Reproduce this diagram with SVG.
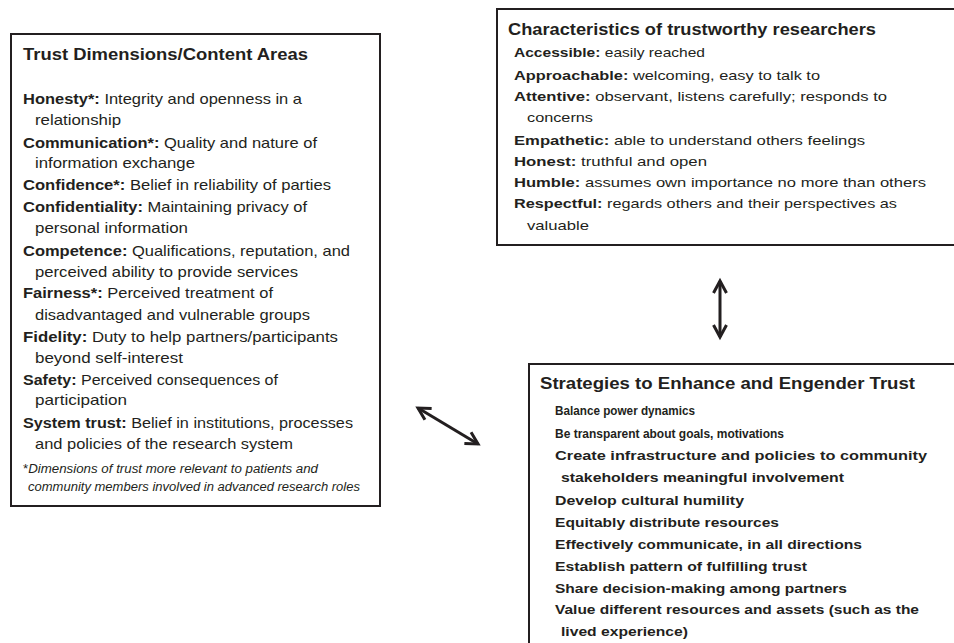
<svg xmlns="http://www.w3.org/2000/svg" width="954" height="643" viewBox="0 0 954 643">
<defs>
<style>
.box{fill:#ffffff;stroke:#231f20;stroke-width:2}
text{font-family:"Liberation Sans",Arial,sans-serif;fill:#231f20}
.ttl{font-size:17px;font-weight:bold}
.bd{font-size:14.5px}
.bd2{font-size:13.5px}
.sm{font-size:12.5px}
.b{font-weight:bold}
.note{font-size:12px;font-style:italic}
.arr{fill:none;stroke:#231f20;stroke-width:3}
</style>
<marker id="head" markerUnits="userSpaceOnUse" markerWidth="20" markerHeight="20" refX="0" refY="0" viewBox="-14 -10 16 20" orient="auto-start-reverse" overflow="visible">
<path d="M -12 -6.5 L 0 0 L -12 6.5" fill="none" stroke="#231f20" stroke-width="3"/>
</marker>
</defs>
<rect width="954" height="643" fill="#ffffff"/>

<g id="trust-dimensions">
<rect class="box" x="11" y="34" width="369" height="472"/>
<text class="ttl" x="23" y="60" textLength="285" lengthAdjust="spacingAndGlyphs">Trust Dimensions/Content Areas</text>
<text class="bd" x="23" y="104" textLength="279" lengthAdjust="spacingAndGlyphs"><tspan class="b">Honesty*:</tspan> Integrity and openness in a</text>
<text class="bd" x="35" y="125" textLength="86" lengthAdjust="spacingAndGlyphs">relationship</text>
<text class="bd" x="23" y="148" textLength="294" lengthAdjust="spacingAndGlyphs"><tspan class="b">Communication*:</tspan> Quality and nature of</text>
<text class="bd" x="35" y="168" textLength="160" lengthAdjust="spacingAndGlyphs">information exchange</text>
<text class="bd" x="23" y="190" textLength="308" lengthAdjust="spacingAndGlyphs"><tspan class="b">Confidence*:</tspan> Belief in reliability of parties</text>
<text class="bd" x="23" y="212" textLength="284" lengthAdjust="spacingAndGlyphs"><tspan class="b">Confidentiality:</tspan> Maintaining privacy of</text>
<text class="bd" x="35" y="233" textLength="153" lengthAdjust="spacingAndGlyphs">personal information</text>
<text class="bd" x="23" y="256" textLength="327" lengthAdjust="spacingAndGlyphs"><tspan class="b">Competence:</tspan> Qualifications, reputation, and</text>
<text class="bd" x="35" y="277" textLength="263" lengthAdjust="spacingAndGlyphs">perceived ability to provide services</text>
<text class="bd" x="23" y="298" textLength="250" lengthAdjust="spacingAndGlyphs"><tspan class="b">Fairness*:</tspan> Perceived treatment of</text>
<text class="bd" x="35" y="320" textLength="275" lengthAdjust="spacingAndGlyphs">disadvantaged and vulnerable groups</text>
<text class="bd" x="23" y="342" textLength="315" lengthAdjust="spacingAndGlyphs"><tspan class="b">Fidelity:</tspan> Duty to help partners/participants</text>
<text class="bd" x="35" y="363" textLength="148" lengthAdjust="spacingAndGlyphs">beyond self-interest</text>
<text class="bd" x="23" y="385" textLength="255" lengthAdjust="spacingAndGlyphs"><tspan class="b">Safety:</tspan> Perceived consequences of</text>
<text class="bd" x="35" y="405" textLength="92" lengthAdjust="spacingAndGlyphs">participation</text>
<text class="bd" x="23" y="428" textLength="330" lengthAdjust="spacingAndGlyphs"><tspan class="b">System trust:</tspan> Belief in institutions, processes</text>
<text class="bd" x="35" y="449" textLength="258" lengthAdjust="spacingAndGlyphs">and policies of the research system</text>
<text class="note" x="23" y="473" textLength="295" lengthAdjust="spacingAndGlyphs"><tspan font-style="normal">*</tspan>Dimensions of trust more relevant to patients and</text>
<text class="note" x="28" y="491" textLength="332" lengthAdjust="spacingAndGlyphs">community members involved in advanced research roles</text>
</g>

<g id="characteristics">
<rect class="box" x="497" y="9" width="470" height="236"/>
<text class="ttl" x="508" y="35" textLength="368" lengthAdjust="spacingAndGlyphs">Characteristics of trustworthy researchers</text>
<text class="bd2" x="514" y="57" textLength="191" lengthAdjust="spacingAndGlyphs"><tspan class="b">Accessible:</tspan> easily reached</text>
<text class="bd2" x="514" y="80" textLength="306" lengthAdjust="spacingAndGlyphs"><tspan class="b">Approachable:</tspan> welcoming, easy to talk to</text>
<text class="bd2" x="514" y="101" textLength="373" lengthAdjust="spacingAndGlyphs"><tspan class="b">Attentive:</tspan> observant, listens carefully; responds to</text>
<text class="bd2" x="527" y="122" textLength="66" lengthAdjust="spacingAndGlyphs">concerns</text>
<text class="bd2" x="514" y="145" textLength="351" lengthAdjust="spacingAndGlyphs"><tspan class="b">Empathetic:</tspan>  able to understand others feelings</text>
<text class="bd2" x="514" y="166" textLength="193" lengthAdjust="spacingAndGlyphs"><tspan class="b">Honest:</tspan> truthful and open</text>
<text class="bd2" x="514" y="187" textLength="412" lengthAdjust="spacingAndGlyphs"><tspan class="b">Humble:</tspan> assumes own importance no more than others</text>
<text class="bd2" x="514" y="208" textLength="383" lengthAdjust="spacingAndGlyphs"><tspan class="b">Respectful:</tspan> regards others and their perspectives as</text>
<text class="bd2" x="527" y="230" textLength="62" lengthAdjust="spacingAndGlyphs">valuable</text>
</g>

<g id="strategies">
<rect class="box" x="529" y="364" width="440" height="300"/>
<text class="ttl" x="540" y="389" textLength="375" lengthAdjust="spacingAndGlyphs">Strategies to Enhance and Engender Trust</text>
<text class="sm b" x="555" y="415" textLength="140" lengthAdjust="spacingAndGlyphs">Balance power dynamics</text>
<text class="sm b" x="555" y="438" textLength="229" lengthAdjust="spacingAndGlyphs">Be transparent about goals, motivations</text>
<text class="bd2 b" x="555" y="460" textLength="372" lengthAdjust="spacingAndGlyphs">Create infrastructure and policies to community</text>
<text class="bd2 b" x="561" y="482" textLength="283" lengthAdjust="spacingAndGlyphs">stakeholders meaningful involvement</text>
<text class="bd2 b" x="555" y="505" textLength="189" lengthAdjust="spacingAndGlyphs">Develop cultural humility</text>
<text class="bd2 b" x="555" y="527" textLength="224" lengthAdjust="spacingAndGlyphs">Equitably distribute resources</text>
<text class="bd2 b" x="555" y="549" textLength="307" lengthAdjust="spacingAndGlyphs">Effectively communicate, in all directions</text>
<text class="bd2 b" x="555" y="571" textLength="252" lengthAdjust="spacingAndGlyphs">Establish pattern of fulfilling trust</text>
<text class="bd2 b" x="555" y="593" textLength="292" lengthAdjust="spacingAndGlyphs">Share decision-making among partners</text>
<text class="bd2 b" x="555" y="614" textLength="364" lengthAdjust="spacingAndGlyphs">Value different resources and assets (such as the</text>
<text class="bd2 b" x="561" y="636" textLength="127" lengthAdjust="spacingAndGlyphs">lived experience)</text>
</g>

<g id="connectors">
<line class="arr" x1="720" y1="281" x2="720" y2="337" marker-start="url(#head)" marker-end="url(#head)"/>
<line class="arr" x1="418" y1="408" x2="478" y2="444" marker-start="url(#head)" marker-end="url(#head)"/>
</g>
</svg>
